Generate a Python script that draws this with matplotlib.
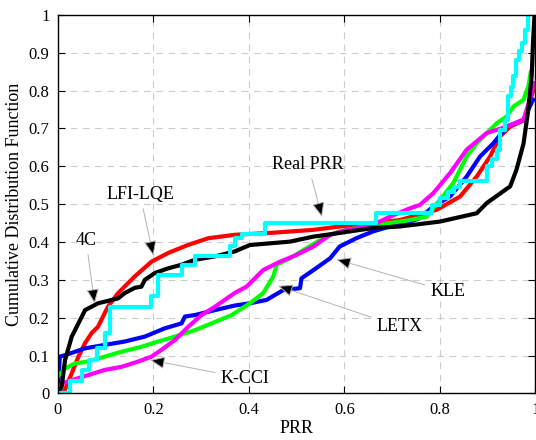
import numpy as np
import matplotlib.pyplot as plt

plt.rcParams['font.family'] = ['Liberation Serif', 'DejaVu Serif']

lfi_x = [0.011, 0.015, 0.029, 0.043, 0.057, 0.071, 0.084, 0.098, 0.105, 0.126, 0.161,
         0.196, 0.231, 0.272, 0.315, 0.37, 0.444, 0.534, 0.59, 0.66, 0.716, 0.793,
         0.842, 0.877, 0.905, 0.926, 0.947, 0.978, 0.984, 0.995]
lfi_y = [0.0, 0.01, 0.053, 0.097, 0.133, 0.16, 0.176, 0.212, 0.229, 0.265, 0.309,
         0.348, 0.371, 0.392, 0.41, 0.419, 0.424, 0.432, 0.441, 0.45, 0.458, 0.485,
         0.52, 0.573, 0.626, 0.679, 0.705, 0.723, 0.75, 0.80]

kle_x = [0.0, 0.004, 0.015, 0.057, 0.098, 0.14, 0.182, 0.224, 0.259, 0.266, 0.287,
         0.329, 0.37, 0.402, 0.437, 0.472, 0.507, 0.51, 0.541, 0.57, 0.59, 0.625,
         0.66, 0.695, 0.737, 0.758, 0.786, 0.821, 0.856, 0.884, 0.912, 0.94, 0.975,
         0.985, 0.995]
kle_y = [0.0, 0.097, 0.101, 0.119, 0.128, 0.137, 0.15, 0.172, 0.185, 0.203, 0.207,
         0.22, 0.232, 0.238, 0.247, 0.273, 0.278, 0.304, 0.331, 0.357, 0.388, 0.41,
         0.428, 0.441, 0.454, 0.463, 0.494, 0.52, 0.573, 0.626, 0.661, 0.705, 0.723,
         0.75, 0.776]

letx_x = [0.0, 0.015, 0.036, 0.063, 0.098, 0.133, 0.175, 0.21, 0.245, 0.287, 0.322,
          0.364, 0.402, 0.43, 0.451, 0.458, 0.486, 0.521, 0.556, 0.59, 0.625, 0.667,
          0.737, 0.772, 0.80, 0.828, 0.856, 0.877, 0.919, 0.94, 0.954, 0.975, 0.985,
          0.99]
letx_y = [0.045, 0.066, 0.079, 0.084, 0.097, 0.11, 0.123, 0.137, 0.15, 0.167, 0.185,
          0.207, 0.238, 0.265, 0.309, 0.34, 0.357, 0.384, 0.41, 0.428, 0.437, 0.445,
          0.458, 0.467, 0.511, 0.556, 0.626, 0.661, 0.714, 0.732, 0.758, 0.776, 0.811,
          0.847]

kcci_x = [0.0, 0.008, 0.029, 0.063, 0.098, 0.133, 0.168, 0.196, 0.217, 0.245, 0.273,
          0.301, 0.329, 0.37, 0.395, 0.43, 0.465, 0.5, 0.535, 0.57, 0.605, 0.653,
          0.695, 0.737, 0.758, 0.786, 0.821, 0.856, 0.898, 0.94, 0.975, 0.988, 0.997]
kcci_y = [0.0, 0.026, 0.035, 0.048, 0.062, 0.07, 0.084, 0.097, 0.115, 0.141, 0.176,
          0.207, 0.229, 0.265, 0.282, 0.326, 0.348, 0.366, 0.388, 0.419, 0.432, 0.441,
          0.467, 0.489, 0.498, 0.529, 0.582, 0.644, 0.688, 0.705, 0.723, 0.776, 0.82]

c4_x = [0.0, 0.008, 0.015, 0.029, 0.043, 0.057, 0.084, 0.126, 0.14, 0.161, 0.175,
        0.182, 0.203, 0.23, 0.259, 0.287, 0.329, 0.37, 0.402, 0.486, 0.534, 0.59,
        0.66, 0.716, 0.80, 0.877, 0.898, 0.947, 0.96, 0.975, 0.985, 0.992, 0.995, 0.998]
c4_y = [0.0, 0.018, 0.088, 0.15, 0.185, 0.22, 0.238, 0.251, 0.265, 0.279, 0.282,
        0.30, 0.318, 0.33, 0.34, 0.353, 0.362, 0.375, 0.392, 0.401, 0.414, 0.424,
        0.437, 0.441, 0.454, 0.476, 0.503, 0.547, 0.59, 0.66, 0.75, 0.838, 0.93, 1.0]

# Real PRR is a staircase: value holds from each x until the next one
real_x = [0.0, 0.025, 0.05, 0.065, 0.081, 0.098, 0.109, 0.196, 0.21, 0.259, 0.287,
          0.36, 0.371, 0.385, 0.433, 0.667, 0.783, 0.80, 0.817, 0.83, 0.842, 0.898,
          0.91, 0.919, 0.926, 0.936, 0.943, 0.948, 0.954, 0.96, 0.966, 0.971, 0.978,
          0.985]
real_y = [0.0, 0.033, 0.062, 0.088, 0.12, 0.16, 0.229, 0.256, 0.313, 0.34, 0.363,
          0.39, 0.41, 0.42, 0.45, 0.476, 0.498, 0.515, 0.533, 0.545, 0.56, 0.60,
          0.62, 0.644, 0.697, 0.723, 0.785, 0.81, 0.838, 0.882, 0.905, 0.926, 0.961,
          1.0]

fig = plt.figure(figsize=(5.36, 4.40), dpi=100)
ax = fig.add_axes([0.108, 0.106, 0.891, 0.86])

lw = 3.0
ax.plot(lfi_x, lfi_y, color='#FF0000', lw=lw)
ax.plot(kle_x, kle_y, color='#0000FF', lw=lw)
ax.plot(letx_x, letx_y, color='#00FF00', lw=lw)
ax.plot(kcci_x, kcci_y, color='#FF00FF', lw=lw)
ax.plot(c4_x, c4_y, color='k', lw=lw)
ax.plot(real_x, real_y, color='#00FFFF', lw=lw, drawstyle='steps-post')

# labels with arrows
notes = [
    ('Real PRR', (0.553, 0.466), (0.524, 0.604)),
    ('LFI-LQE', (0.200, 0.364), (0.172, 0.525)),
    ('4C', (0.077, 0.237), (0.059, 0.404)),
    ('K-CCI', (0.193, 0.088), (0.392, 0.040)),
    ('LETX', (0.461, 0.284), (0.716, 0.176)),
    ('KLE', (0.583, 0.354), (0.816, 0.269)),
]
for txt, tip, pos in notes:
    ax.annotate(txt, xy=tip, xytext=pos, fontsize=13, ha='center', va='center',
                arrowprops=dict(arrowstyle='-|>,head_length=0.7,head_width=0.3',
                                ec='0.7', fc='k', lw=0.7, shrinkA=2, shrinkB=0))

ax.set_xlim(0, 1)
ax.set_ylim(0, 1)
ax.set_xticks([0, 0.2, 0.4, 0.6, 0.8, 1])
ax.set_xticklabels(['0', '0.2', '0.4', '0.6', '0.8', '1'])
ax.set_yticks(np.arange(0, 1.01, 0.1))
ax.set_yticklabels(['0', '0.1', '0.2', '0.3', '0.4', '0.5', '0.6', '0.7', '0.8', '0.9', '1'])
ax.tick_params(direction='in', top=True, right=True, length=5, labelsize=12, pad=6)
ax.grid(True, color='0.8', linestyle=(0, (6, 5)), lw=0.8)
for s in ax.spines.values():
    s.set_linewidth(1.0)

ax.set_xlabel('PRR', fontsize=13, labelpad=2)
ax.set_ylabel('Cumulative Distribution Function', fontsize=13, labelpad=4)

fig.savefig('out.png', dpi=100)
